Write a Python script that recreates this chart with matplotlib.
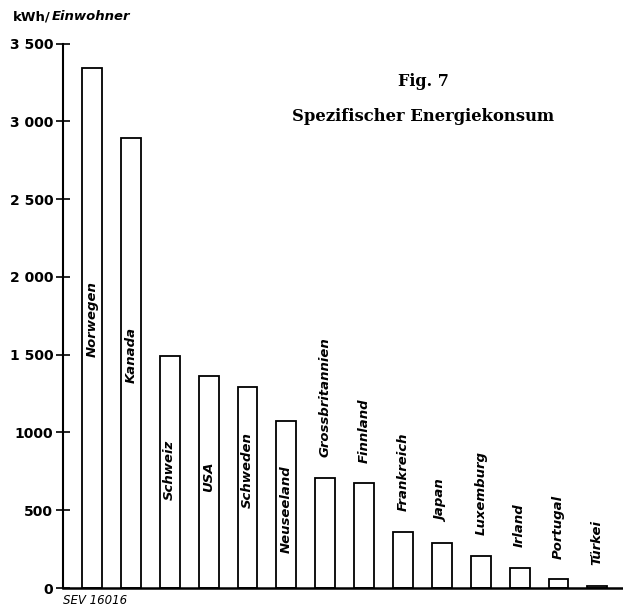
import matplotlib
matplotlib.use("Agg")
import matplotlib.pyplot as plt

# Spezifischer Energiekonsum, kWh pro Einwohner
countries = ["Norwegen", "Kanada", "Schweiz", "USA", "Schweden", "Neuseeland",
             "Grossbritannien", "Finnland", "Frankreich", "Japan", "Luxemburg",
             "Irland", "Portugal", "Türkei"]
kwh_per_capita = [3340, 2890, 1490, 1360, 1290, 1075,
                  708, 672, 358, 289, 205, 130, 55, 12]

y_ticks = [0, 500, 1000, 1500, 2000, 2500, 3000, 3500]
y_tick_labels = ["0", "500", "1000", "1 500", "2 000", "2 500", "3 000", "3 500"]

# label layout: inside the bar (y in data units) or above it (None)
inside_label_y = [1730, 1500, 760, 715, 760, 510,
                  None, None, None, None, None, None, None, None]

fig = plt.figure(figsize=(6.23, 6.06), dpi=100)
ax = fig.add_axes([63 / 623, 18 / 606, 1 - 63 / 623, (588 - 43.5) / 606])

x = range(len(countries))
ax.bar(x, kwh_per_capita, width=0.51, color="white", edgecolor="black", linewidth=1.3)

ax.set_xlim(-0.746, 13.66)
ax.set_ylim(0, 3500)
ax.set_yticks(y_ticks)
ax.set_yticklabels(y_tick_labels, fontsize=10, fontweight="bold")
ax.set_xticks([])
ax.tick_params(axis="y", direction="inout", length=10, width=1.2, pad=2)

for side in ("top", "right"):
    ax.spines[side].set_visible(False)
ax.spines["left"].set_linewidth(1.5)
ax.spines["bottom"].set_linewidth(1.8)

lbl = dict(rotation=90, fontsize=9.5, fontstyle="italic", fontweight="bold",
           ha="center")
for i, (name, val, ly) in enumerate(zip(countries, kwh_per_capita, inside_label_y)):
    if ly is not None:
        ax.text(i, ly, name, va="center", **lbl)
    else:
        ax.annotate(name, (i, val), xytext=(0, 15), textcoords="offset points",
                    va="bottom", **lbl)

# axis unit label: upright "kWh/" followed by italic "Einwohner"
unit = fig.text(13 / 623, 1 - 17 / 606, "kWh/", fontsize=9.5, fontweight="bold",
                va="center")
fig.canvas.draw()
bb = unit.get_window_extent()
fig.text(bb.x1 / fig.bbox.width + 1 / 623, 1 - 17 / 606, "Einwohner", fontsize=9.5,
         fontweight="bold", fontstyle="italic", va="center")

fig.text(423 / 623, 1 - 82 / 606, "Fig. 7", family="DejaVu Serif", fontsize=11.5,
         fontweight="bold", ha="center", va="center")
fig.text(423 / 623, 1 - 117 / 606, "Spezifischer Energiekonsum", family="DejaVu Serif",
         fontsize=11.8, fontweight="bold", ha="center", va="center")

fig.text(63 / 623, 1 - 600 / 606, "SEV 16016", fontsize=8.5, fontstyle="italic",
         va="center")

fig.savefig("out.png", dpi=100, facecolor="white")
